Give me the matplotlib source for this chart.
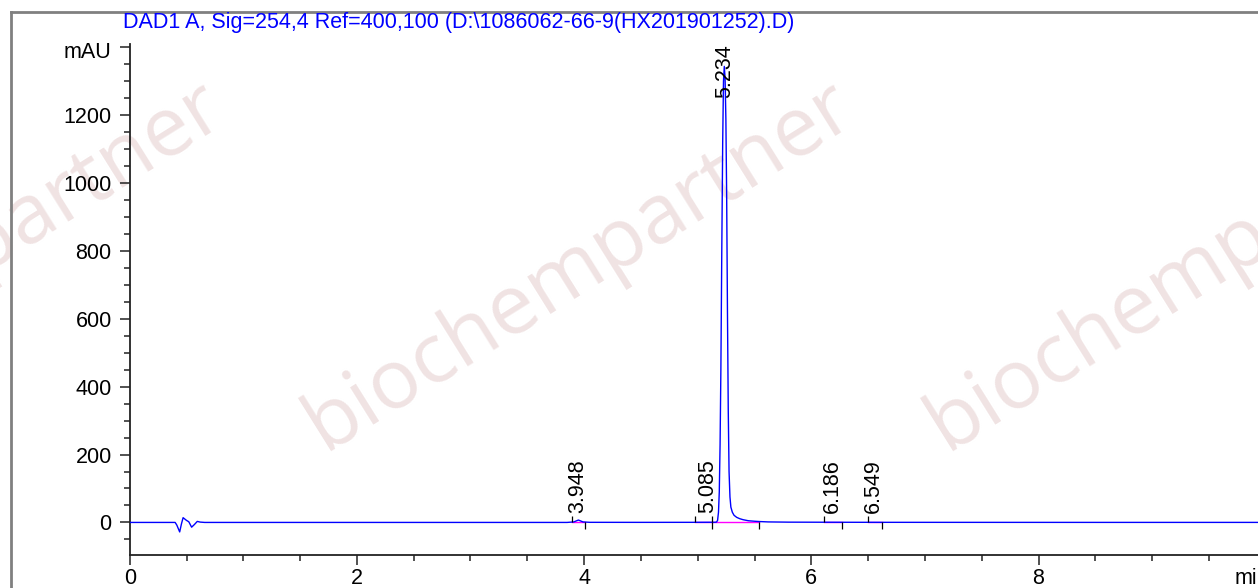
import matplotlib
matplotlib.use("Agg")
import matplotlib.pyplot as plt
from matplotlib.lines import Line2D
from matplotlib.ticker import MultipleLocator

plt.rcParams['font.family'] = ['Liberation Sans', 'DejaVu Sans']

# chromatogram trace (min, mAU)
trace_t = [0.00, 0.40, 0.415, 0.44, 0.455, 0.47, 0.50, 0.52, 0.545, 0.57, 0.595, 0.62, 0.66,
           1.0, 2.0, 3.0, 3.85, 3.91, 3.935, 3.95, 3.965, 3.99, 4.05, 4.5, 4.95, 5.10,
           5.150, 5.165, 5.175, 5.183, 5.190, 5.197, 5.204, 5.212, 5.220, 5.227, 5.234,
           5.241, 5.248, 5.255, 5.262, 5.269, 5.276, 5.284, 5.292, 5.305, 5.320, 5.343,
           5.37, 5.40, 5.445, 5.50, 5.55, 5.62, 5.80, 6.2, 6.6, 7.5, 8.5, 9.95]
trace_mau = [0.0, 0.0, -8, -28, -5, 14, 6, 2, -14, -6, 3, 1, 0.0,
             0.0, 0.0, 0.0, 0.0, 1.5, 5, 7, 5, 1.5, 0.3, 0.2, 0.3, 0.5,
             0.5, 1, 6, 30, 90, 230, 450, 800, 1120, 1300, 1344,
             1310, 1190, 960, 620, 330, 150, 75, 45, 30, 21, 15,
             11, 8, 5, 3.5, 2.5, 1.5, 0.8, 0.5, 0.3, 0.2, 0.1, 0.1]

# integrated peaks: retention time, start, end
peak_rt = [3.948, 5.085, 5.234, 6.186, 6.549]
peak_start = [3.896, 4.980, 5.130, 6.115, 6.500]
peak_end = [4.008, 5.130, 5.540, 6.268, 6.625]
peak_labels = ['3.948', '5.085', '5.234', '6.186', '6.549']

title = r'DAD1 A, Sig=254,4 Ref=400,100 (D:\1086062-66-9(HX201901252).D)'
watermark = 'biochempartner'
watermark_x_px = [-50, 580, 1202]

W, H = 1258, 588
fig = plt.figure(figsize=(W / 100, H / 100), dpi=100)

# watermarks behind everything
for xp in watermark_x_px:
    fig.text(xp / W, 1 - 266 / H, watermark, fontsize=60, family='Open Sans',
             color='#f0e3e3', rotation=32, ha='center', va='center',
             rotation_mode='anchor', zorder=0)

# grey page frame
fig.add_artist(Line2D([10.5 / W, 10.5 / W], [0, 1 - 12 / H], color='#808080', lw=2))
fig.add_artist(Line2D([10.5 / W, 1], [1 - 12 / H, 1 - 12 / H], color='#808080', lw=2))

fig.text(123 / W, 1 - 28 / H, title, color='#0000ff', fontsize=15.5, va='baseline')

ax = fig.add_axes([129.7 / W, 33 / H, 1 - 129.7 / W, 1 - 77 / H])
ax.set_zorder(1)
ax.patch.set_alpha(0)

ax.plot(trace_t, trace_mau, color='#0000ff', lw=1.0, zorder=3)

for rt, s, e, lab in zip(peak_rt, peak_start, peak_end, peak_labels):
    ax.plot([s, e], [0, 0], color='#ff00ff', lw=1.0, zorder=2)
    ax.vlines(s, 0, 20, color='black', lw=0.9, zorder=4)
    ax.vlines(e, -20, 0, color='black', lw=0.9, zorder=4)
    if lab == '5.234':
        ax.text(rt, 1410, lab, rotation=90, ha='center', va='top', fontsize=15.5, zorder=5)
    else:
        ax.text(rt, 27, lab, rotation=90, ha='center', va='bottom', fontsize=15.5, zorder=5)

ax.set_xlim(0, (W - 129.7) / 113.6)
ax.set_ylim(-96, 1410)

for side in ('top', 'right'):
    ax.spines[side].set_visible(False)
for side in ('left', 'bottom'):
    ax.spines[side].set_linewidth(1.3)
    ax.spines[side].set_color('#222222')

ax.xaxis.set_major_locator(MultipleLocator(2))
ax.xaxis.set_minor_locator(MultipleLocator(0.5))
ax.yaxis.set_minor_locator(MultipleLocator(50))
ax.set_yticks([0, 200, 400, 600, 800, 1000, 1200, 1400])
ax.set_yticklabels(['0', '200', '400', '600', '800', '1000', '1200', ''])
ax.tick_params(which='major', length=7.5, width=1.1, labelsize=15.5, color='#222222')
ax.tick_params(which='minor', length=4, width=1.1, color='#222222')
ax.tick_params(axis='x', which='major', pad=2)
ax.tick_params(axis='y', which='major', pad=5.5)

ax.annotate('mAU', xy=(0, 1400), xycoords=('axes fraction', 'data'),
            xytext=(-13, -3.5), textcoords='offset points', ha='right', va='center',
            fontsize=15.5)
ax.annotate('min', xy=(9.73, 0), xycoords=('data', 'axes fraction'),
            xytext=(0, -9.5), textcoords='offset points', ha='left', va='top',
            fontsize=15.5, annotation_clip=False)

fig.savefig('out.png', dpi=100)
